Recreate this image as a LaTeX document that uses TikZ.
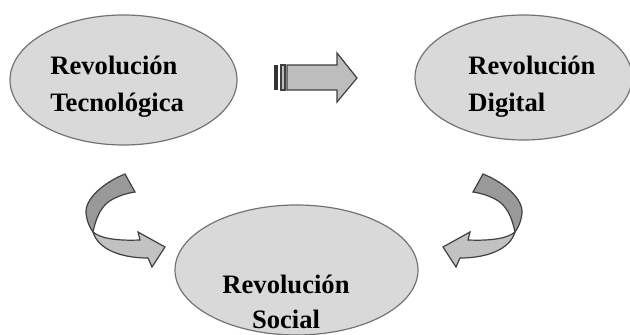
\documentclass[tikz,border=0pt]{standalone}
\usepackage{fontspec}
\setmainfont{Liberation Serif}
\usetikzlibrary{shapes.geometric}

\tikzset{
  curved arrow/.pic={
    % front of the ribbon, with the head
    \draw[ribbon front] (93,232) .. controls (100,238) and (115,241) .. (140,240)
      -- (138,232) -- (165,247) -- (152,267) -- (148,258)
      .. controls (120,258) and (98,249) .. (93,232) -- cycle;
    % back of the ribbon, with the tail
    \draw[ribbon back] (125,174) .. controls (105,182) and (85,198) .. (86,213)
      .. controls (87,222) and (90,228) .. (93,232)
      .. controls (96,218) and (101,205) .. (113,199)
      .. controls (121,195) and (128,193) .. (135,192) -- cycle;
  }
}

\begin{document}
\begin{tikzpicture}[x=0.5pt,y=-0.5pt,
    revo/.style={ellipse,draw=gray!90!black,line width=0.6pt,fill=black!15},
    revo text/.style={inner sep=0pt,align=left,font=\bfseries\fontsize{13.3}{18.5}\selectfont},
    arrow body/.style={draw=black!75,line width=0.6pt,fill=black!26},
    ribbon front/.style={draw=black!75,line width=0.6pt,fill=black!24},
    ribbon back/.style={draw=black!75,line width=0.6pt,fill=black!40}]

  \useasboundingbox (0,0) rectangle (630,335);

  % Define ellipses
  \node[revo,minimum width=113.5pt,minimum height=65pt] (tecno) at (123.5,80) {};
  \node[revo,minimum width=108.5pt,minimum height=62.5pt] (digital) at (523.5,77.5) {};
  \node[revo,minimum width=121.5pt,minimum height=65pt] (social) at (296.5,270) {};

  % Texts
  \node[revo text,anchor=west] (tecnoTxt) at (50,87) {Revolución\\Tecnológica};
  \node[revo text,anchor=west] (digitalTxt) at (468,87) {Revolución\\Digital};
  \node[revo text,align=center,font=\bfseries\fontsize{13.3}{17.5}\selectfont]
    (socialTxt) at (286,302) {Revolución\\Social};

  % Straight arrow
  \fill[black!80] (274,65) rectangle (278,90);
  \draw[arrow body] (281,65) rectangle (285,90);
  \draw[arrow body] (287,65) -- (337,65) -- (337,53) -- (357,78)
    -- (337,102) -- (337,90) -- (287,90) -- cycle;

  % Curved arrows
  \pic at (0,0) {curved arrow};
  \pic[xscale=-1] at (608,0) {curved arrow};

\end{tikzpicture}
\end{document}
